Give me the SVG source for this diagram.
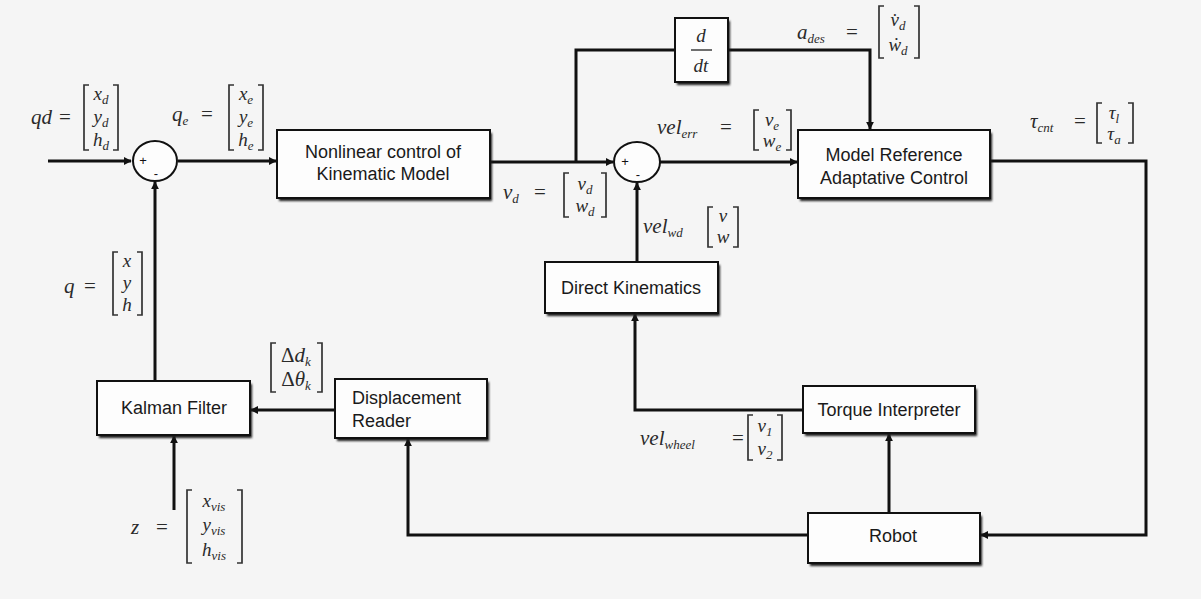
<svg xmlns="http://www.w3.org/2000/svg" width="1201" height="599" viewBox="0 0 1201 599">
<style>
.box{fill:#fdfdfd;stroke:#111;stroke-width:2}
.shd{fill:#1a1a1a;filter:url(#blur)}
.lbl{font-family:"Liberation Sans",Arial,sans-serif;font-size:18px;fill:#1a1a1a}
.m{font-family:"Liberation Serif","Times New Roman",serif;font-style:italic;font-size:21px;fill:#2a2a2a}
.r{font-family:"Liberation Serif","Times New Roman",serif;font-style:italic;font-size:19px;fill:#2a2a2a}
.eq{font-family:"Liberation Serif","Times New Roman",serif;font-size:21px;fill:#2a2a2a}
.s{font-size:13px}
.br{fill:none;stroke:#333;stroke-width:1.7}
.ln{fill:none;stroke:#111;stroke-width:3}
.sum{fill:#fdfdfd;stroke:#111;stroke-width:2}
.sg{font-family:"Liberation Sans",Arial,sans-serif;font-size:13px;fill:#111}
</style>
<defs>
<filter id="blur" x="-10%" y="-10%" width="130%" height="140%"><feGaussianBlur stdDeviation="1.3"/></filter>
<marker id="ar" viewBox="0 0 10 10" refX="9" refY="5" markerWidth="8" markerHeight="8" markerUnits="userSpaceOnUse" orient="auto"><path d="M0,0 L10,5 L0,10 z" fill="#111"/></marker>
</defs>
<rect x="0" y="0" width="1201" height="599" fill="#f5f5f5"/>

<g id="connectors">
<path class="ln" d="M48 161 H131" marker-end="url(#ar)"/>
<path class="ln" d="M178 161 H276" marker-end="url(#ar)"/>
<path class="ln" d="M490 162 H613" marker-end="url(#ar)"/>
<path class="ln" d="M576 162 V50 H675"/>
<path class="ln" d="M728 50 H870 V129" marker-end="url(#ar)"/>
<path class="ln" d="M660 162 H797" marker-end="url(#ar)"/>
<path class="ln" d="M990 161 H1146 V535 H981" marker-end="url(#ar)"/>
<path class="ln" d="M889 513 V434" marker-end="url(#ar)"/>
<path class="ln" d="M803 410 H635 V314" marker-end="url(#ar)"/>
<path class="ln" d="M637 262 V183" marker-end="url(#ar)"/>
<path class="ln" d="M808 535 H408 V439" marker-end="url(#ar)"/>
<path class="ln" d="M335 410 H251" marker-end="url(#ar)"/>
<path class="ln" d="M155 381 V182" marker-end="url(#ar)"/>
<path class="ln" d="M174 510 V436" marker-end="url(#ar)"/>
</g>

<g id="sum1">
<ellipse class="sum" cx="155" cy="161" rx="22" ry="20"/>
<text class="sg" x="143" y="165" text-anchor="middle">+</text>
<text class="sg" x="156" y="178" text-anchor="middle">-</text>
</g>
<g id="sum2">
<ellipse class="sum" cx="637" cy="162" rx="23" ry="20"/>
<text class="sg" x="625" y="166" text-anchor="middle">+</text>
<text class="sg" x="638" y="179" text-anchor="middle">-</text>
</g>

<g id="nonlinear">
<rect class="shd" x="279" y="133" width="213" height="68"/>
<rect class="box" x="277" y="130" width="213" height="68"/>
<text class="lbl" x="383" y="158" text-anchor="middle">Nonlinear control of</text>
<text class="lbl" x="383" y="180" text-anchor="middle">Kinematic Model</text>
</g>

<g id="ddt">
<rect class="shd" x="677" y="21" width="53" height="64"/>
<rect class="box" x="675" y="18" width="53" height="64"/>
<text class="r" x="701" y="42" text-anchor="middle">d</text>
<line x1="691" y1="50" x2="712" y2="50" stroke="#222" stroke-width="1.3"/>
<text class="r" x="701" y="72" text-anchor="middle">dt</text>
</g>

<g id="mrac">
<rect class="shd" x="800" y="133" width="192" height="68"/>
<rect class="box" x="798" y="130" width="192" height="68"/>
<text class="lbl" x="894" y="161" text-anchor="middle">Model Reference</text>
<text class="lbl" x="894" y="184" text-anchor="middle">Adaptative Control</text>
</g>

<g id="direct">
<rect class="shd" x="547" y="265" width="173" height="51"/>
<rect class="box" x="545" y="262" width="173" height="51"/>
<text class="lbl" x="631" y="294" text-anchor="middle">Direct Kinematics</text>
</g>

<g id="torque">
<rect class="shd" x="805" y="389" width="172" height="47"/>
<rect class="box" x="803" y="386" width="172" height="47"/>
<text class="lbl" x="889" y="416" text-anchor="middle">Torque Interpreter</text>
</g>

<g id="robot">
<rect class="shd" x="810" y="516" width="172" height="50"/>
<rect class="box" x="808" y="513" width="172" height="50"/>
<text class="lbl" x="893" y="542" text-anchor="middle">Robot</text>
</g>

<g id="kalman">
<rect class="shd" x="99" y="384" width="153" height="54"/>
<rect class="box" x="97" y="381" width="153" height="54"/>
<text class="lbl" x="174" y="414" text-anchor="middle">Kalman Filter</text>
</g>

<g id="displacement">
<rect class="shd" x="337" y="382" width="152" height="59"/>
<rect class="box" x="335" y="379" width="152" height="59"/>
<text class="lbl" x="352" y="404">Displacement</text>
<text class="lbl" x="352" y="427">Reader</text>
</g>

<g id="labels">
<!-- qd -->
<text class="m" x="52" y="124" text-anchor="end">qd</text>
<text class="eq" x="65" y="124" text-anchor="middle">=</text>
<path class="br" d="M89 85 H84 V150 H89 M113 85 H118 V150 H113"/>
<text class="r" x="101" y="100" text-anchor="middle">x<tspan class="s" dy="4">d</tspan></text>
<text class="r" x="101" y="123" text-anchor="middle">y<tspan class="s" dy="4">d</tspan></text>
<text class="r" x="101" y="146" text-anchor="middle">h<tspan class="s" dy="4">d</tspan></text>
<!-- qe -->
<text class="m" x="172" y="121">q<tspan class="s" dy="4">e</tspan></text>
<text class="eq" x="207" y="121" text-anchor="middle">=</text>
<path class="br" d="M234 85 H229 V150 H234 M258 85 H263 V150 H258"/>
<text class="r" x="246" y="100" text-anchor="middle">x<tspan class="s" dy="4">e</tspan></text>
<text class="r" x="246" y="123" text-anchor="middle">y<tspan class="s" dy="4">e</tspan></text>
<text class="r" x="246" y="146" text-anchor="middle">h<tspan class="s" dy="4">e</tspan></text>
<!-- vd -->
<text class="m" x="503" y="199">v<tspan class="s" dy="4">d</tspan></text>
<text class="eq" x="540" y="199" text-anchor="middle">=</text>
<path class="br" d="M569 173 H564 V217 H569 M601 173 H606 V217 H601"/>
<text class="r" x="585" y="190" text-anchor="middle">v<tspan class="s" dy="4">d</tspan></text>
<text class="r" x="585" y="212" text-anchor="middle">w<tspan class="s" dy="4">d</tspan></text>
<!-- vel_err -->
<text class="m" x="657" y="134">vel<tspan class="s" dy="4">err</tspan></text>
<text class="eq" x="726" y="134" text-anchor="middle">=</text>
<path class="br" d="M759 110 H754 V150 H759 M786 110 H791 V150 H786"/>
<text class="r" x="772" y="126" text-anchor="middle">v<tspan class="s" dy="4">e</tspan></text>
<text class="r" x="772" y="147" text-anchor="middle">w<tspan class="s" dy="4">e</tspan></text>
<!-- a_des -->
<text class="m" x="797" y="39">a<tspan class="s" dy="4">des</tspan></text>
<text class="eq" x="852" y="39" text-anchor="middle">=</text>
<path class="br" d="M884 6 H879 V58 H884 M914 6 H919 V58 H914"/>
<text class="r" x="898" y="26" text-anchor="middle">v̇<tspan class="s" dy="4">d</tspan></text>
<text class="r" x="898" y="51" text-anchor="middle">ẇ<tspan class="s" dy="4">d</tspan></text>
<!-- tau_cnt -->
<text class="m" x="1030" y="128">τ<tspan class="s" dy="4">cnt</tspan></text>
<text class="eq" x="1080" y="128" text-anchor="middle">=</text>
<path class="br" d="M1102 103 H1097 V143 H1102 M1128 103 H1133 V143 H1128"/>
<text class="r" x="1114" y="119" text-anchor="middle">τ<tspan class="s" dy="4">l</tspan></text>
<text class="r" x="1114" y="140" text-anchor="middle">τ<tspan class="s" dy="4">a</tspan></text>
<!-- q -->
<text class="m" x="64" y="293">q</text>
<text class="eq" x="90" y="293" text-anchor="middle">=</text>
<path class="br" d="M118 252 H113 V315 H118 M137 252 H142 V315 H137"/>
<text class="r" x="127" y="267" text-anchor="middle">x</text>
<text class="r" x="127" y="289" text-anchor="middle">y</text>
<text class="r" x="127" y="311" text-anchor="middle">h</text>
<!-- vel_wd -->
<text class="m" x="643" y="233">vel<tspan class="s" dy="4">wd</tspan></text>
<path class="br" d="M713 207 H708 V247 H713 M733 207 H738 V247 H733"/>
<text class="r" x="723" y="222" text-anchor="middle">v</text>
<text class="r" x="723" y="243" text-anchor="middle">w</text>
<!-- vel_wheel -->
<text class="m" x="640" y="445">vel<tspan class="s" dy="4">wheel</tspan></text>
<text class="eq" x="738" y="445" text-anchor="middle">=</text>
<path class="br" d="M753 415 H748 V460 H753 M777 415 H782 V460 H777"/>
<text class="r" x="765" y="432" text-anchor="middle">v<tspan class="s" dy="4">1</tspan></text>
<text class="r" x="765" y="455" text-anchor="middle">v<tspan class="s" dy="4">2</tspan></text>
<!-- delta -->
<path class="br" d="M276 343 H271 V392 H276 M317 343 H322 V392 H317"/>
<text class="eq" x="296" y="362" text-anchor="middle" font-size="19">Δ<tspan style="font-style:italic">d</tspan><tspan class="s" dy="4" style="font-style:italic">k</tspan></text>
<text class="eq" x="296" y="386" text-anchor="middle" font-size="19">Δ<tspan style="font-style:italic">θ</tspan><tspan class="s" dy="4" style="font-style:italic">k</tspan></text>
<!-- z -->
<text class="m" x="131" y="534">z</text>
<text class="eq" x="162" y="534" text-anchor="middle">=</text>
<path class="br" d="M192 490 H187 V563 H192 M237 490 H242 V563 H237"/>
<text class="r" x="214" y="507" text-anchor="middle">x<tspan class="s" dy="4">vis</tspan></text>
<text class="r" x="214" y="531" text-anchor="middle">y<tspan class="s" dy="4">vis</tspan></text>
<text class="r" x="214" y="556" text-anchor="middle">h<tspan class="s" dy="4">vis</tspan></text>
</g>
</svg>
